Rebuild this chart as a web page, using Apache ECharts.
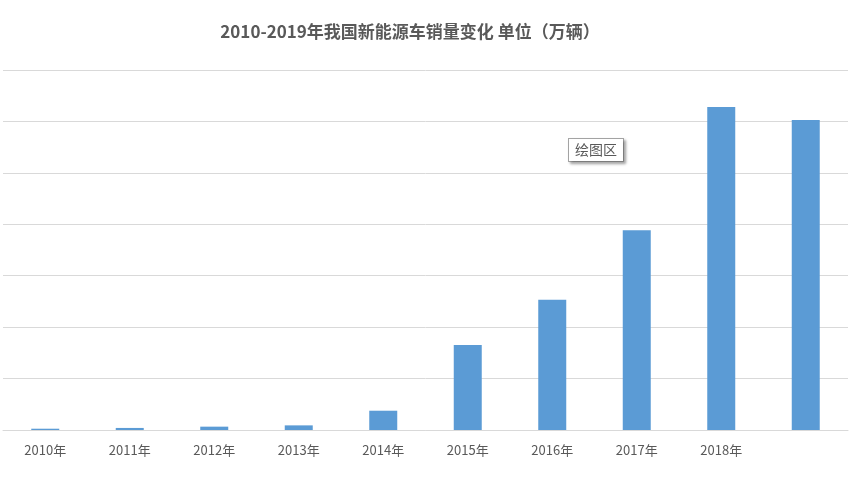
<!DOCTYPE html>
<html><head><meta charset="utf-8">
<script src="https://cdn.jsdelivr.net/npm/echarts@6/dist/echarts.min.js"></script>
<style>html,body{margin:0;padding:0;background:#fff}#c{width:852px;height:479px}</style>
</head><body><div id="c"></div>
<script>
const categories = ['2010年','2011年','2012年','2013年','2014年','2015年','2016年','2017年','2018年',''];
const sales = [0.5, 0.8, 1.3, 1.8, 7.5, 33.1, 50.7, 77.7, 125.6, 120.6];
const chart = echarts.init(document.getElementById('c'));
chart.setOption({
  animation: false,
  title: {text: '2010-2019年我国新能源车销量变化 单位（万辆）', left: 405, top: 18, textAlign: 'center',
    textStyle: {fontFamily: 'Noto Sans CJK SC', fontSize: 17, fontWeight: 'bold', color: '#595959'}},
  grid: {left: 3, right: 4, top: 70, bottom: 49},
  xAxis: {type: 'category', data: categories,
    axisLine: {lineStyle: {color: '#d9d9d9'}}, axisTick: {show: false},
    axisLabel: {color: '#595959', fontSize: 13, fontFamily: 'Noto Sans CJK SC', margin: 14}},
  yAxis: {type: 'value', min: 0, max: 140, interval: 20, axisLabel: {show: false},
    axisLine: {show: false}, axisTick: {show: false},
    splitLine: {lineStyle: {color: '#d9d9d9'}}},
  series: [{type: 'bar', data: sales, barWidth: 28, itemStyle: {color: '#5b9bd5'}}],
  graphic: [{type: 'text', left: 568, top: 138,
    style: {text: '绘图区', fontSize: 14, fontFamily: 'Noto Sans CJK SC', fill: '#595959',
      backgroundColor: '#fff', borderColor: '#a6a6a6', borderWidth: 1, padding: [4, 6],
      shadowBlur: 3, shadowColor: 'rgba(0,0,0,0.3)', shadowOffsetX: 2, shadowOffsetY: 2}}]
});
</script></body></html>
